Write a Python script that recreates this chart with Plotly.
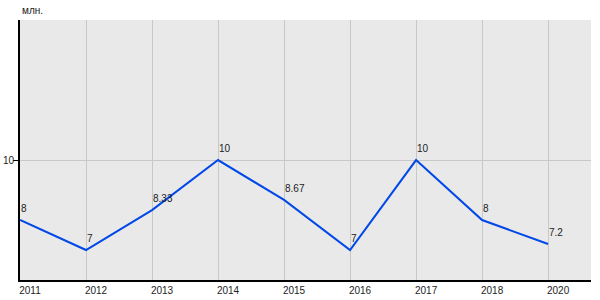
import plotly.graph_objects as go

years = ["2011", "2012", "2013", "2014", "2015", "2016", "2017", "2018", "2020"]
values = [8, 7, 8.33, 10, 8.67, 7, 10, 8, 7.2]
labels = ["8", "7", "8.33", "10", "8.67", "7", "10", "8", "7.2"]
unit = "млн."

xs = list(range(len(years)))

fig = go.Figure()
fig.add_trace(go.Scatter(
    x=xs, y=values, mode="lines",
    line=dict(color="#0048e8", width=2),
    hoverinfo="skip", showlegend=False,
))

for x, y, t in zip(xs, values, labels):
    fig.add_annotation(x=x, y=y, text=t, showarrow=False,
                       xanchor="left", yanchor="bottom", xshift=-1, yshift=4,
                       font=dict(size=10, color="#222222"))

fig.add_annotation(x=0, y=1, xref="paper", yref="paper", text=unit,
                   showarrow=False, xanchor="left", yanchor="bottom", yshift=2,
                   font=dict(size=10, color="#222222"))

fig.update_layout(
    width=600, height=300,
    margin=dict(l=20, r=9, t=20, b=20),
    plot_bgcolor="#e9e9e9", paper_bgcolor="white",
    font=dict(family="Liberation Sans, Arial, sans-serif", size=10, color="#222222"),
)
fig.update_xaxes(
    range=[0, 8.65], tickmode="array", tickvals=xs, ticktext=years,
    showgrid=True, gridcolor="#c8c8c8", gridwidth=1,
    showline=True, linecolor="black", linewidth=2,
    ticks="", ticklabelshift=10, zeroline=False, automargin=False,
)
fig.update_yaxes(
    range=[6, 14.67], tickmode="array", tickvals=[10], ticktext=["10"],
    showgrid=True, gridcolor="#c8c8c8", gridwidth=1,
    showline=True, linecolor="black", linewidth=2,
    ticks="outside", ticklen=5, tickcolor="black", zeroline=False, automargin=False,
    ticklabelstandoff=-3,
)

fig.write_html("out.html")
